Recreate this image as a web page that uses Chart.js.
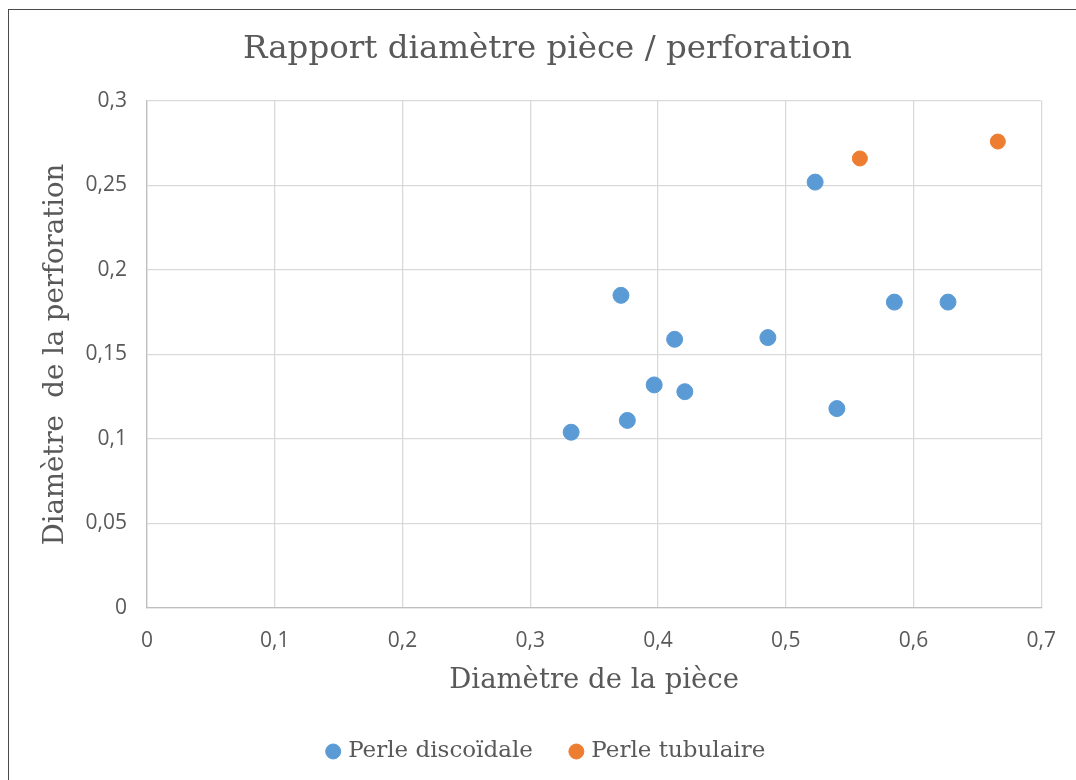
<!DOCTYPE html>
<html>
<head>
<meta charset="utf-8">
<script src="https://cdn.jsdelivr.net/npm/chart.js@4"></script>
<style>
  html, body { margin: 0; padding: 0; background: #fff; overflow: hidden; }
  #wrap { position: relative; width: 1076px; height: 780px; }
  #frame { position: absolute; left: 8px; top: 9px; width: 1200px; height: 1000px; border: 1px solid #4a4a4a; pointer-events: none; }
</style>
</head>
<body>
<div id="wrap">
  <canvas id="scatterChart" width="1076" height="780"></canvas>
  <div id="frame"></div>
</div>
<script>
// Perle discoïdale
const discX = [0.332, 0.371, 0.376, 0.397, 0.413, 0.421, 0.486, 0.523, 0.540, 0.585, 0.627];
const discY = [0.104, 0.185, 0.111, 0.132, 0.159, 0.128, 0.160, 0.252, 0.118, 0.181, 0.181];
// Perle tubulaire
const tubeX = [0.558, 0.666];
const tubeY = [0.266, 0.276];

const seriesNames = ["Perle discoïdale", "Perle tubulaire"];
const xTicks = { min: 0, max: 0.7, step: 0.1 };
const yTicks = { min: 0, max: 0.3, step: 0.05 };

const textColor = "#595959";
const serif = "'DejaVu Serif', 'Liberation Serif', serif";
const sans = "'Open Sans', sans-serif";

function toPoints(xs, ys) {
  return xs.map(function (x, i) { return { x: x, y: ys[i] }; });
}

function frNumber(v) {
  return String(Math.round(v * 100) / 100).replace(".", ",");
}

document.addEventListener("DOMContentLoaded", function () {
  const ctx = document.getElementById("scatterChart").getContext("2d");
  new Chart(ctx, {
    type: "scatter",
    data: {
      datasets: [
        {
          label: seriesNames[0],
          data: toPoints(discX, discY),
          backgroundColor: "#5b9bd5",
          borderColor: "#5b9bd5",
          pointRadius: 8,
          pointHoverRadius: 8,
        },
        {
          label: seriesNames[1],
          data: toPoints(tubeX, tubeY),
          backgroundColor: "#ed7d31",
          borderColor: "#ed7d31",
          pointRadius: 7.5,
          pointHoverRadius: 7.5,
        },
      ],
    },
    options: {
      responsive: false,
      animation: false,
      // left padding keeps title and legend centred on the whole frame
      layout: { padding: { left: 51, right: 32, top: 0, bottom: 7 } },
      plugins: {
        title: {
          display: true,
          text: "Rapport diamètre pièce / perforation",
          color: textColor,
          font: { family: serif, size: 32.5, weight: "normal" },
          padding: { top: 30.5, bottom: 31.5 },
        },
        legend: {
          position: "bottom",
          labels: {
            color: textColor,
            font: { family: serif, size: 23 },
            usePointStyle: true,
            pointStyle: "circle",
            boxWidth: 7,
            boxHeight: 10.6,
            padding: 40,
          },
        },
        tooltip: { enabled: false },
      },
      scales: {
        x: {
          type: "linear",
          min: xTicks.min,
          max: xTicks.max,
          afterFit: function (scale) { scale.height = 92; },
          ticks: {
            stepSize: xTicks.step,
            color: textColor,
            font: { family: sans, size: 21 },
            padding: 20,
            callback: frNumber,
          },
          grid: { color: "#d9d9d9", lineWidth: 1.3, drawTicks: false },
          border: { color: "#bfbfbf", width: 1.3 },
          title: {
            display: true,
            text: "Diamètre de la pièce",
            color: textColor,
            font: { family: serif, size: 27.5 },
            padding: { top: 11, bottom: 3 },
          },
        },
        y: {
          type: "linear",
          min: yTicks.min,
          max: yTicks.max,
          afterFit: function (scale) { scale.width = 96; },
          ticks: {
            stepSize: yTicks.step,
            color: textColor,
            font: { family: sans, size: 21 },
            padding: 20,
            callback: frNumber,
          },
          grid: { color: "#d9d9d9", lineWidth: 1.3, drawTicks: false },
          border: { color: "#bfbfbf", width: 1.3 },
          title: {
            display: true,
            text: "Diamètre  de la perforation",
            color: textColor,
            font: { family: serif, size: 27.5 },
            padding: { top: -11.5, bottom: 0 },
          },
        },
      },
    },
  });
});
</script>
</body>
</html>
